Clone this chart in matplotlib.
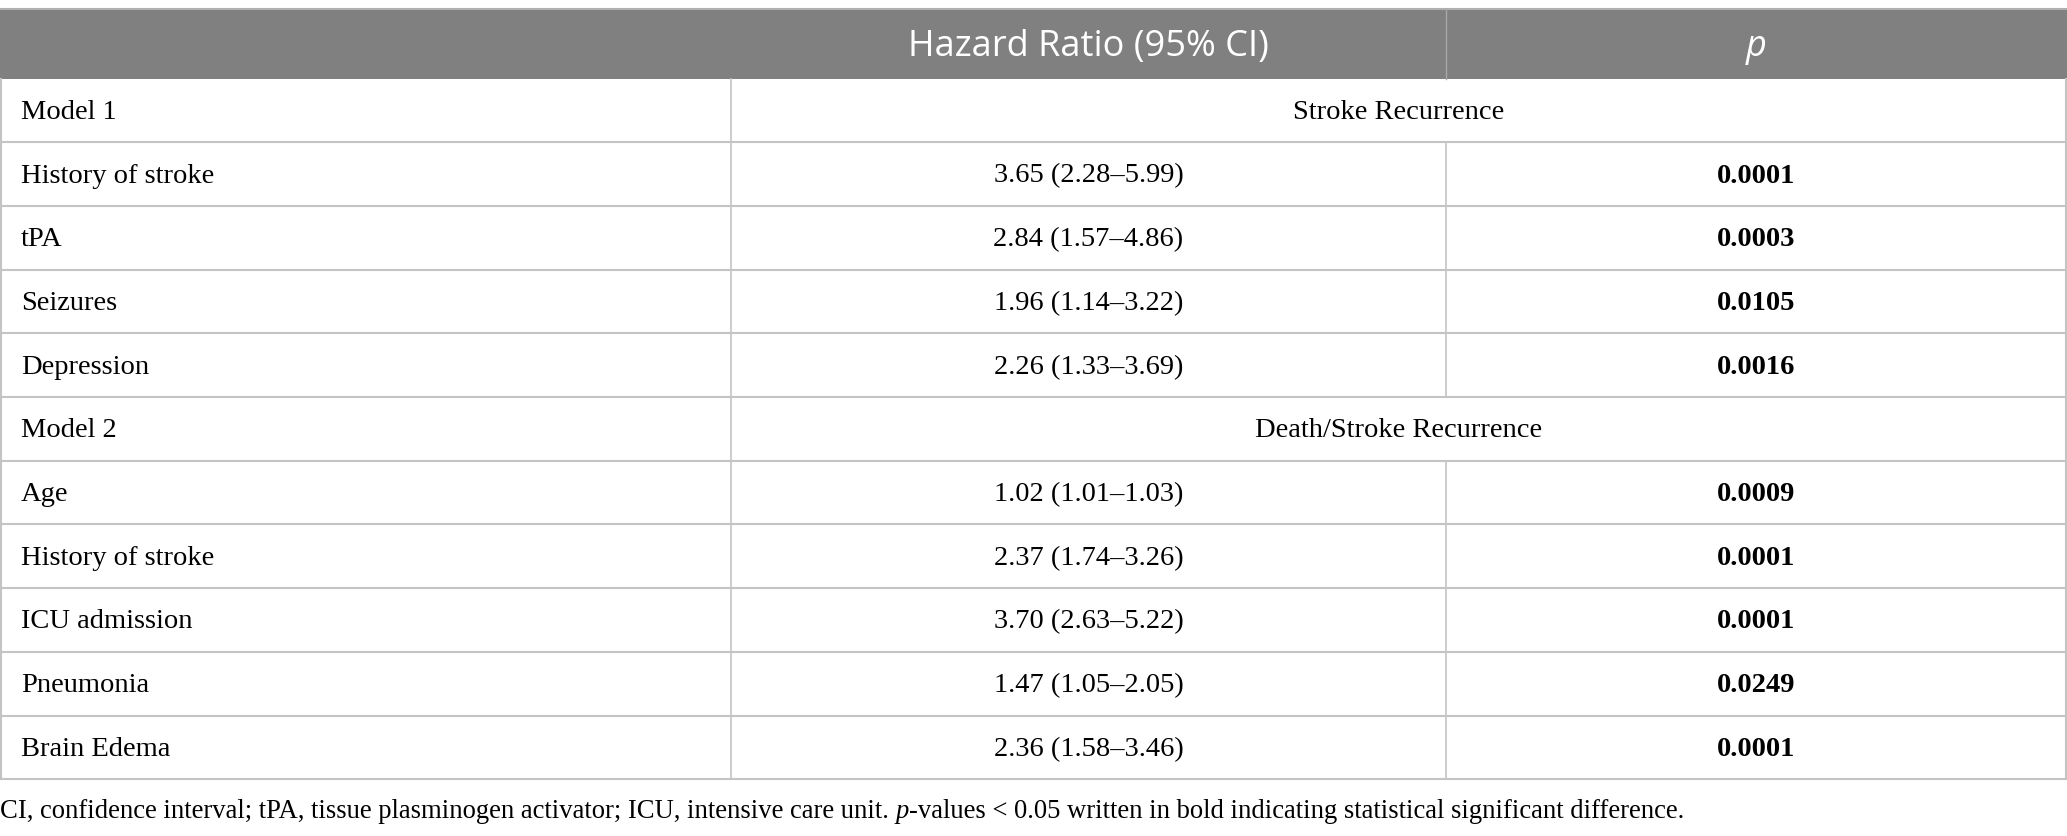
import matplotlib.pyplot as plt
from matplotlib.patches import Rectangle

# table content
header = ["", "Hazard Ratio (95% CI)", "p"]
models = ["Model 1", "Model 2"]
outcomes = ["Stroke Recurrence", "Death/Stroke Recurrence"]
factors = [
    ["History of stroke", "tPA", "Seizures", "Depression"],
    ["Age", "History of stroke", "ICU admission", "Pneumonia", "Brain Edema"],
]
hazard = [
    ["3.65 (2.28–5.99)", "2.84 (1.57–4.86)", "1.96 (1.14–3.22)", "2.26 (1.33–3.69)"],
    ["1.02 (1.01–1.03)", "2.37 (1.74–3.26)", "3.70 (2.63–5.22)", "1.47 (1.05–2.05)",
     "2.36 (1.58–3.46)"],
]
pvals = [
    ["0.0001", "0.0003", "0.0105", "0.0016"],
    ["0.0009", "0.0001", "0.0001", "0.0249", "0.0001"],
]
footnote_a = "CI, confidence interval; tPA, tissue plasminogen activator; ICU, intensive care unit. "
footnote_b = "-values < 0.05 written in bold indicating statistical significant difference."

# layout in pixels
W, H = 2067, 837
col_x = [0, 731, 1446, W - 1]
top, head_h, row_h = 10, 69.5, 63.7
serif = "Liberation Serif"
sans = "Open Sans"
line_c = "#c4c4c4"
fs_body = 20.5
fs_head = 26
fs_note = 19.2

fig = plt.figure(figsize=(W / 100, H / 100), dpi=100)
ax = fig.add_axes([0, 0, 1, 1])
ax.set_xlim(0, W)
ax.set_ylim(H, 0)
ax.axis("off")

# header band
ax.add_patch(Rectangle((0, top), W, head_h, facecolor="#808080", edgecolor="none"))
ax.plot([0, W], [top, top], color="#b0b0b0", lw=1.5)
ax.plot([col_x[2], col_x[2]], [top, top + head_h], color="#a8a8a8", lw=1)
hy = top + head_h / 2 + 2
ax.text((col_x[1] + col_x[2]) / 2, hy, header[1], color="white", fontsize=fs_head,
        family=sans, ha="center", va="center")
ax.text((col_x[2] + col_x[3]) / 2, hy, header[2], color="white", fontsize=fs_head,
        family=sans, style="italic", ha="center", va="center")

# body rows
y = top + head_h
for m in range(len(models)):
    # model row with merged outcome cell
    cy = y + row_h / 2 + 1
    ax.text(21, cy, models[m], fontsize=fs_body, family=serif, ha="left", va="center")
    ax.text((col_x[1] + col_x[3]) / 2, cy, outcomes[m], fontsize=fs_body, family=serif,
            ha="center", va="center")
    ax.plot([col_x[1], col_x[1]], [y, y + row_h], color=line_c, lw=1.2)
    ax.plot([0, W], [y + row_h, y + row_h], color=line_c, lw=1.5)
    y += row_h
    for i in range(len(factors[m])):
        cy = y + row_h / 2 + 1
        ax.text(21, cy, factors[m][i], fontsize=fs_body, family=serif, ha="left", va="center")
        ax.text((col_x[1] + col_x[2]) / 2, cy, hazard[m][i], fontsize=fs_body, family=serif,
                ha="center", va="center")
        ax.text((col_x[2] + col_x[3]) / 2, cy, pvals[m][i], fontsize=fs_body, family=serif,
                weight="bold", ha="center", va="center")
        for cx in col_x[1:3]:
            ax.plot([cx, cx], [y, y + row_h], color=line_c, lw=1.2)
        ax.plot([0, W], [y + row_h, y + row_h], color=line_c, lw=1.5)
        y += row_h

# outer sides
ax.plot([0.8, 0.8], [top + head_h, y], color=line_c, lw=1.5)
ax.plot([W - 1, W - 1], [top + head_h, y], color=line_c, lw=1.5)

# footnote, with italic p in the middle
note_y = H - 812
t = ax.text(0, note_y, footnote_a, fontsize=fs_note, family=serif,
            ha="left", va="center", transform=None)
fig.canvas.draw()
x2 = t.get_window_extent().x1
t2 = ax.text(x2, note_y, "p", fontsize=fs_note, family=serif, style="italic",
             ha="left", va="center", transform=None)
x3 = t2.get_window_extent().x1
ax.text(x3, note_y, footnote_b, fontsize=fs_note, family=serif,
        ha="left", va="center", transform=None)

fig.savefig("out.png", dpi=100)
